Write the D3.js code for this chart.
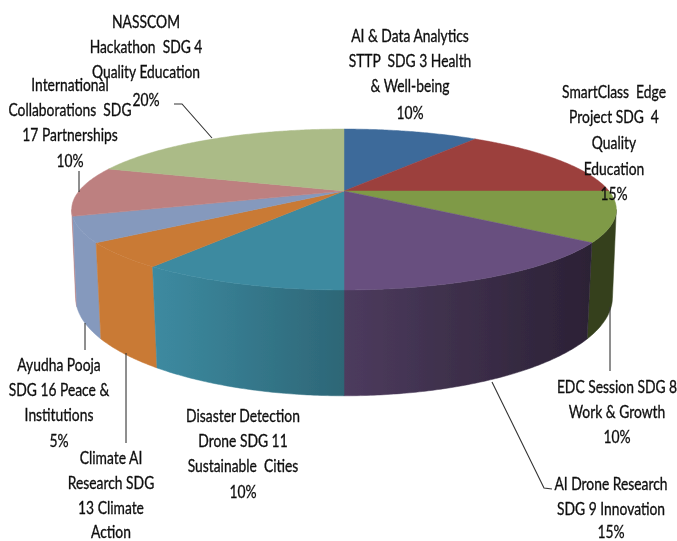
<!DOCTYPE html>
<meta charset="utf-8">
<style>
html, body { margin: 0; background: #fff; }
svg { display: block; }
text { font-family: Lato, "Liberation Sans", sans-serif; font-size: 16.5px; fill: #0c0c0c; stroke: #0c0c0c; stroke-width: 0.3px; text-anchor: middle; }
.leader { fill: none; stroke: #333; stroke-width: 1.1px; }
</style>
<body>
<script src="https://cdn.jsdelivr.net/npm/d3@7"></script>
<script>

// slices, clockwise from 12 o'clock
var categories = [
  ["AI & Data Analytics", "STTP  SDG 3 Health", "& Well-being"],
  ["SmartClass  Edge", "Project SDG  4", "Quality", "Education"],
  ["EDC Session SDG 8", "Work & Growth"],
  ["AI Drone Research", "SDG 9 Innovation"],
  ["Disaster Detection", "Drone SDG 11", "Sustainable  Cities"],
  ["Climate AI", "Research SDG", "13 Climate", "Action"],
  ["Ayudha Pooja", "SDG 16 Peace &", "Institutions"],
  ["International", "Collaborations  SDG", "17 Partnerships"],
  ["NASSCOM", "Hackathon  SDG 4", "Quality Education"]
];
var values = [10, 15, 10, 15, 10, 5, 5, 10, 20];
// the climate label has no percentage in the picture
var showPercent = [true, true, true, true, true, false, true, true, true];

var colors = ["#3e6a9a", "#9c3f3e", "#7f9a47", "#68507f", "#3d8aa0", "#c97a36", "#8599bd", "#bd8080", "#abbb87"];

// label centre x, and the centre y of each text line
var labelPos = [
  [410, [36, 61, 86, 113]],
  [614, [92, 117, 143, 169, 194]],
  [617, [387, 412, 437]],
  [611, [484, 509, 532]],
  [243, [416, 441, 466, 492]],
  [111, [458, 483, 508, 532]],
  [59, [365, 390, 415, 441]],
  [70, [85, 110, 135, 161]],
  [146, [22, 47, 72, 100]]
];
var leaders = [
  [[174, 104], [182, 104], [212, 138]],
  [[79, 171], [79, 192]],
  [[126, 353], [126, 443]],
  [[85, 323], [85, 350]],
  [[610, 307], [610, 371]],
  [[492, 382], [544, 488], [552, 489]]
];

var width = 677,
    height = 541;

var textSquash = 0.84;

// perspective view of the disc: the far half comes out smaller than the near half
var topFace = { cx: 344, cy: 191, a: 265, b: 76.2, k: -0.23 };
var bottomFace = { cx: 344, cy: 275.6, a: 262, b: 94, k: -0.218 };
var wallFrom = 103.3 * Math.PI / 180,
    wallTo = 256.7 * Math.PI / 180;

function project(face, angle) {
  var u = Math.sin(angle),
      v = -Math.cos(angle),
      d = 1 + face.k * v;
  return [face.cx + face.a * u / d, face.cy + face.b * v / d];
}

function arcAngles(a0, a1) {
  var n = Math.max(2, Math.ceil((a1 - a0) / 0.01));
  return d3.range(n + 1).map(function(i) { return a0 + (a1 - a0) * i / n; });
}

var line = d3.line();

// light falls off to the right along the wall
var shade = d3.scaleLinear()
    .domain([157, 344, 587, 612])
    .range([1, 0.74, 0.42, 0.42])
    .clamp(true);

function wallColor(c, x) {
  var f = shade(x),
      r = d3.rgb(c);
  return d3.rgb(r.r * f, r.g * f, r.b * f).formatHex();
}

var svg = d3.select("body").append("svg")
    .attr("width", width)
    .attr("height", height);

var defs = svg.append("defs");
defs.append("filter").attr("id", "soft")
  .append("feGaussianBlur").attr("stdDeviation", 0.45);

var slices = d3.pie().sort(null).value(function(d) { return d; })(values);

// outer walls, the ones nearest the viewer last
var walls = svg.append("g").attr("filter", "url(#soft)");
slices.map(function(s, i) { return { s: s, i: i }; })
  .sort(function(p, q) {
    return Math.abs((q.s.startAngle + q.s.endAngle) / 2 - Math.PI) - Math.abs((p.s.startAngle + p.s.endAngle) / 2 - Math.PI);
  })
  .forEach(function(p) {
    var s = p.s, i = p.i;
    var a0 = Math.max(s.startAngle, wallFrom),
        a1 = Math.min(s.endAngle, wallTo);
    if (a1 <= a0) return;
    var angles = arcAngles(a0, a1);
    var upper = angles.map(function(a) { return project(topFace, a); });
    var lower = angles.map(function(a) { return project(bottomFace, a); }).reverse();
    var xs = upper.concat(lower).map(function(q) { return q[0]; });
    var x0 = d3.min(xs), x1 = d3.max(xs);
    var grad = defs.append("linearGradient").attr("id", "wall" + i)
        .attr("gradientUnits", "userSpaceOnUse")
        .attr("x1", x0).attr("x2", x1).attr("y1", 0).attr("y2", 0);
    d3.range(9).forEach(function(j) {
      grad.append("stop")
          .attr("offset", j / 8)
          .attr("stop-color", wallColor(colors[i], x0 + (x1 - x0) * j / 8));
    });
    walls.append("path")
        .attr("d", line(upper.concat(lower)) + "Z")
        .attr("fill", "url(#wall" + i + ")")
        .attr("stroke", "url(#wall" + i + ")")
        .attr("stroke-width", 0.5);
  });

// top of the pie
var tops = svg.append("g").attr("filter", "url(#soft)");
slices.forEach(function(s, i) {
  var rim = arcAngles(s.startAngle, s.endAngle).map(function(a) { return project(topFace, a); });
  tops.append("path")
      .attr("d", line([[topFace.cx, topFace.cy]].concat(rim)) + "Z")
      .attr("fill", colors[i])
      .attr("stroke", colors[i])
      .attr("stroke-width", 0.5);
});

// leader lines
svg.append("g").attr("filter", "url(#soft)").selectAll("path")
    .data(leaders)
  .enter().append("path")
    .attr("class", "leader")
    .attr("d", function(d) { return line(d); });

// labels
var labels = svg.append("g").attr("filter", "url(#soft)");
categories.forEach(function(lines, i) {
  var all = showPercent[i] ? lines.concat(values[i] + "%") : lines;
  all.forEach(function(t, j) {
    labels.append("text")
        .attr("transform", "translate(" + labelPos[i][0] + "," + labelPos[i][1][j] + ") scale(" + textSquash + ",1)")
        .attr("dy", "0.35em")
        .attr("xml:space", "preserve")
        .text(t);
  });
});
</script>
</body>
